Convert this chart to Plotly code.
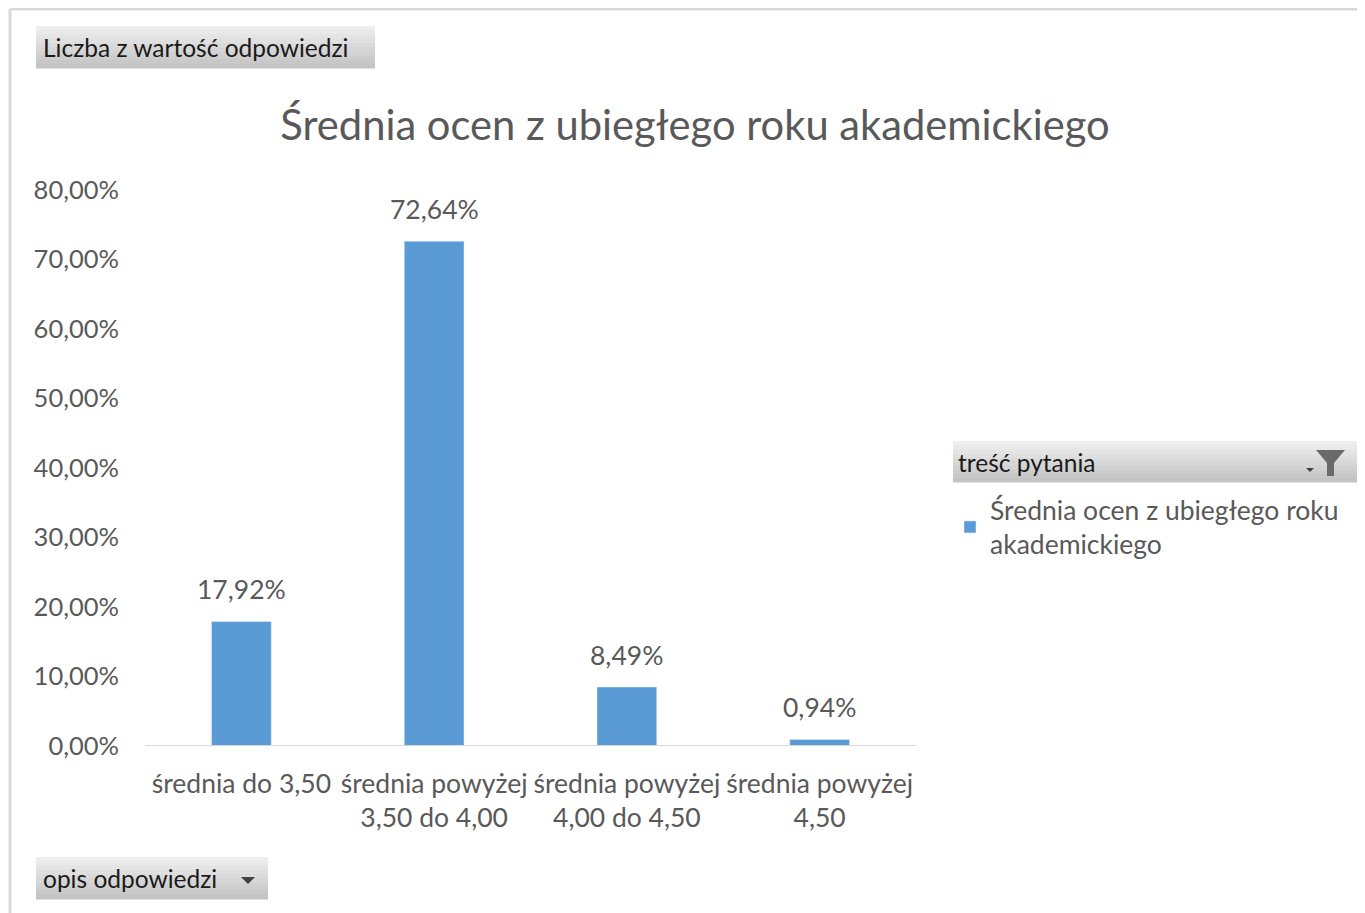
import plotly.graph_objects as go

categories = ["średnia do 3,50", "średnia powyżej<br>3,50 do 4,00",
              "średnia powyżej<br>4,00 do 4,50", "średnia powyżej<br>4,50"]
values = [0.1792, 0.7264, 0.0849, 0.0094]
series_name = "Średnia ocen z ubiegłego roku<br>akademickiego"
title_text = "Średnia ocen z ubiegłego roku akademickiego"
y_ticks = [0, 0.1, 0.2, 0.3, 0.4, 0.5, 0.6, 0.7, 0.8]

W, H = 1365, 913
OFF = 8  # page body margin
L, R, T, B = 145, 916, 190, 746  # screen coords of plot area
FONT = "Lato"
GREY = "#595959"
BAR = "#5b9bd5"

def px(x):
    return (x - L) / (R - L)

def py(y):
    return (B - y) / (B - T)

fig = go.Figure()
fig.add_trace(go.Bar(
    x=categories, y=values, name=series_name, marker_color=BAR,
))

shapes = []
# outer frame (top and left lines)
shapes.append(dict(type="line", xref="paper", yref="paper", x0=px(10), x1=px(1380), y0=py(9), y1=py(9),
                   line=dict(color="#d9d9d9", width=3)))
shapes.append(dict(type="line", xref="paper", yref="paper", x0=px(10), x1=px(10), y0=py(9), y1=py(930),
                   line=dict(color="#d9d9d9", width=3)))

def grad_box(x0, y0, x1, y1, n=10):
    c0 = (238, 238, 238)
    c1 = (196, 196, 196)
    h = (y1 - y0) / n
    for i in range(n):
        t = i / (n - 1)
        c = tuple(int(c0[k] + (c1[k] - c0[k]) * t) for k in range(3))
        shapes.append(dict(type="rect", xref="paper", yref="paper",
                           x0=px(x0), x1=px(x1), y0=py(y0 + i * h), y1=py(y0 + (i + 1) * h + 0.5),
                           fillcolor="rgb(%d,%d,%d)" % c, line=dict(width=0), layer="below"))

grad_box(36, 26, 375, 68)
grad_box(36, 857, 268, 899)
grad_box(953, 441, 1357, 482)

# dropdown triangle for "opis odpowiedzi"
shapes.append(dict(type="path", xref="paper", yref="paper",
                   path="M %f,%f L %f,%f L %f,%f Z" % (px(241), py(877), px(255), py(877), px(248), py(884)),
                   fillcolor="#404040", line=dict(width=0)))
# small triangle + funnel for "treść pytania"
shapes.append(dict(type="path", xref="paper", yref="paper",
                   path="M %f,%f L %f,%f L %f,%f Z" % (px(1306), py(468), px(1314), py(468), px(1310), py(472)),
                   fillcolor="#404040", line=dict(width=0)))
shapes.append(dict(type="path", xref="paper", yref="paper",
                   path="M %f,%f L %f,%f L %f,%f L %f,%f L %f,%f L %f,%f Z" % (
                       px(1316), py(450), px(1345), py(450), px(1334), py(463),
                       px(1334), py(476), px(1327), py(476), px(1327), py(463)),
                   fillcolor="#6a6a6a", line=dict(width=0)))
# baseline axis
shapes.append(dict(type="line", xref="paper", yref="y", x0=0, x1=1, y0=0, y1=0,
                   line=dict(color="#d9d9d9", width=2)))

annotations = [
    dict(text="Liczba z wartość odpowiedzi", xref="paper", yref="paper", x=px(41), y=py(47),
         xanchor="left", yanchor="middle", showarrow=False, font=dict(size=24.5, color="#1a1a1a", family=FONT)),
    dict(text="opis odpowiedzi", xref="paper", yref="paper", x=px(41), y=py(878),
         xanchor="left", yanchor="middle", showarrow=False, font=dict(size=24.5, color="#1a1a1a", family=FONT)),
    dict(text="treść pytania", xref="paper", yref="paper", x=px(956), y=py(462),
         xanchor="left", yanchor="middle", showarrow=False, font=dict(size=24.5, color="#1a1a1a", family=FONT)),
]
# data labels
for c, v in zip(categories, values):
    annotations.append(dict(
        text=("%.2f%%" % (v * 100)).replace(".", ","), x=c, y=v, xref="x", yref="y",
        xanchor="center", yanchor="bottom", yshift=14, showarrow=False,
        font=dict(size=26.5, color=GREY, family=FONT)))

fig.update_layout(
    width=W, height=H,
    margin=dict(l=L - OFF, r=W - (R - OFF), t=T - OFF, b=H - (B - OFF), pad=0),
    paper_bgcolor="white", plot_bgcolor="white",
    separators=", ",
    font=dict(family=FONT, color=GREY, size=20),
    title=dict(text=title_text, x=(695 - OFF) / W, xanchor="center", y=1 - (125 - OFF) / H, yanchor="middle",
               font=dict(size=41.7, color=GREY, family=FONT)),
    bargap=0.69,
    showlegend=True,
    legend=dict(x=px(950), y=py(486), xanchor="left", yanchor="top",
                font=dict(size=26.5, color=GREY, family=FONT), itemwidth=30,
                bgcolor="rgba(0,0,0,0)"),
    xaxis=dict(showgrid=False, showline=False, ticks="", tickfont=dict(size=26.5, color=GREY, family=FONT),
               zeroline=False, ticklabelstandoff=19),
    yaxis=dict(range=[0, 0.8], tickvals=y_ticks, tickformat=".2%", showgrid=False, zeroline=False,
               showline=False, ticks="", ticklabelstandoff=25,
               tickfont=dict(size=25.5, color=GREY, family=FONT)),
    shapes=shapes,
    annotations=annotations,
)

fig.write_html("out.html")
